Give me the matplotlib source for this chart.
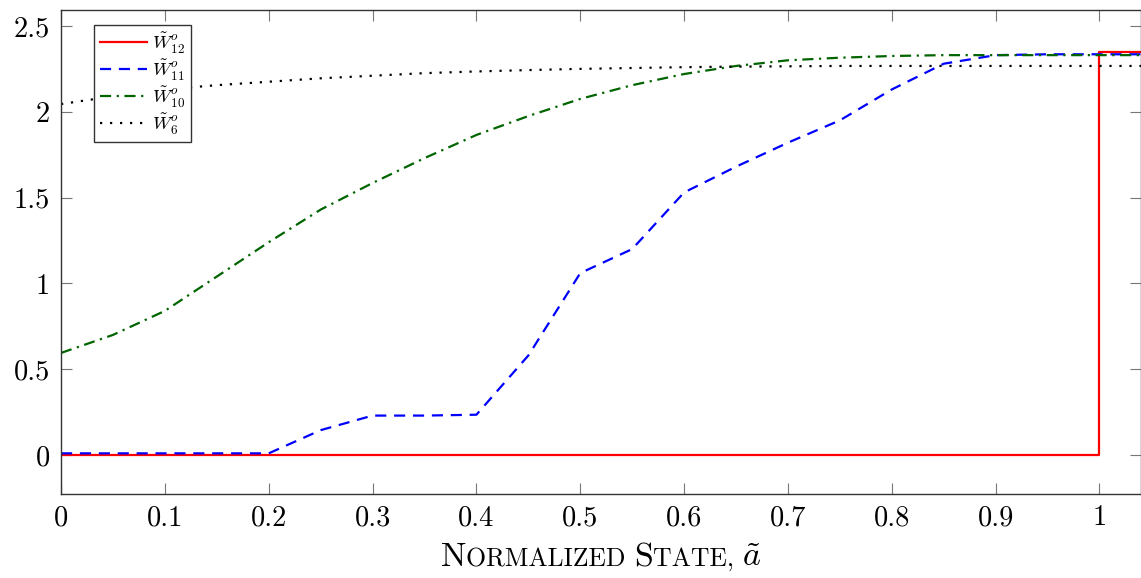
import matplotlib
matplotlib.use("Agg")
from matplotlib import pyplot as plt
from matplotlib.offsetbox import TextArea, HPacker, AnchoredOffsetbox

plt.rcParams['font.family'] = 'cmr10'
plt.rcParams['mathtext.fontset'] = 'cm'
plt.rcParams['axes.formatter.use_mathtext'] = True

# valores
estado = [0.0, 0.05, 0.1, 0.15, 0.2, 0.25, 0.3, 0.35, 0.4, 0.45, 0.5,
          0.55, 0.6, 0.65, 0.7, 0.75, 0.8, 0.85, 0.9, 0.95, 1.0, 1.05]
w11 = [0.01, 0.01, 0.01, 0.01, 0.01, 0.145, 0.23, 0.23, 0.235, 0.58, 1.06,
       1.2, 1.53, 1.68, 1.82, 1.95, 2.13, 2.28, 2.33, 2.335, 2.335, 2.335]
w10 = [0.595, 0.70, 0.84, 1.04, 1.24, 1.43, 1.585, 1.73, 1.865, 1.975, 2.075,
       2.155, 2.22, 2.267, 2.30, 2.315, 2.325, 2.33, 2.33, 2.33, 2.33, 2.33]
w6 = [2.045, 2.09, 2.13, 2.155, 2.175, 2.195, 2.21, 2.225, 2.235, 2.243, 2.25,
      2.255, 2.26, 2.263, 2.265, 2.267, 2.267, 2.267, 2.267, 2.267, 2.267, 2.267]
w12_x = [0.0, 1.0, 1.0, 1.05]
w12_y = [0.0, 0.0, 2.35, 2.35]

xticks = [0, 0.1, 0.2, 0.3, 0.4, 0.5, 0.6, 0.7, 0.8, 0.9, 1.0]
xticklabels = ['0', '0.1', '0.2', '0.3', '0.4', '0.5', '0.6', '0.7', '0.8', '0.9', '1']
yticks = [0, 0.5, 1, 1.5, 2, 2.5]
yticklabels = ['0', '0.5', '1', '1.5', '2', '2.5']

fig = plt.figure(figsize=(11.41, 5.78), dpi=100)
ax = fig.add_axes([0.0535, 0.1453, 0.9465, 0.8374])

ax.plot(w12_x, w12_y, color='red', lw=1.6, label=r'$\tilde{W}^o_{12}$')
ax.plot(estado, w11, color='blue', lw=1.6, dashes=(5, 3.5), label=r'$\tilde{W}^o_{11}$')
ax.plot(estado, w10, color='#006400', lw=1.6, dashes=(5, 2.5, 1, 2.5), label=r'$\tilde{W}^o_{10}$')
ax.plot(estado, w6, color='black', lw=1.6, dashes=(1, 3.5), label=r'$\tilde{W}^o_{6}$')

ax.set_xlim(0, 1.04)
ax.set_ylim(-0.227, 2.593)
ax.set_xticks(xticks)
ax.set_xticklabels(xticklabels)
ax.set_yticks(yticks)
ax.set_yticklabels(yticklabels)
ax.tick_params(direction='in', length=8, width=0.8, color='#777777',
               top=True, right=True, labelsize=20.5, pad=8)
for s in ax.spines.values():
    s.set_linewidth(1.0)
    s.set_color('#333333')

leg = ax.legend(loc='upper left', bbox_to_anchor=(0.0306, 0.969), fontsize=13.5,
                handlelength=2.5, labelspacing=0.1, borderpad=0.3, borderaxespad=0,
                handletextpad=0.3, fancybox=False, framealpha=1)
leg.get_frame().set_edgecolor('#333333')
leg.get_frame().set_linewidth(1.0)

# rotulo em versalete
grande = dict(size=24.5)
pequeno = dict(size=18.5)
partes = [TextArea('N', textprops=grande), TextArea('ORMALIZED ', textprops=pequeno),
          TextArea('S', textprops=grande), TextArea('TATE, ', textprops=pequeno),
          TextArea(r'$\tilde{a}$', textprops=grande)]
caixa = HPacker(children=partes, align='baseline', pad=0, sep=0)
rot = AnchoredOffsetbox(loc='upper center', child=caixa, frameon=False,
                        bbox_to_anchor=(0.5, -0.09), bbox_transform=ax.transAxes,
                        borderpad=0)
ax.add_artist(rot)

plt.savefig('out.png')
